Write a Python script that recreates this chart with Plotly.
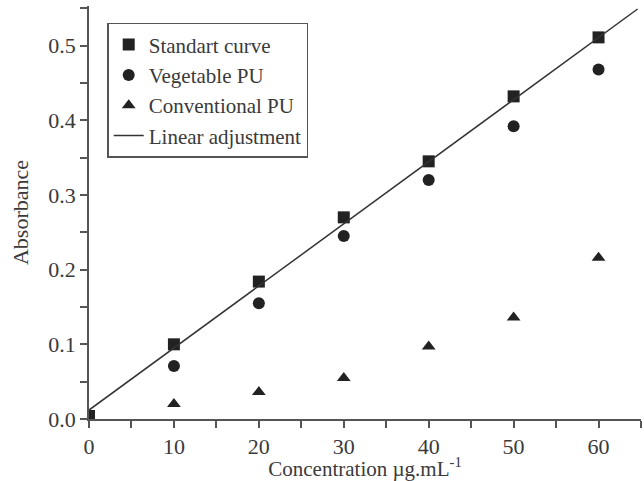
import plotly.graph_objects as go

conc = [0, 10, 20, 30, 40, 50, 60]
standard = [0.004, 0.100, 0.184, 0.270, 0.345, 0.432, 0.511]
conc_pu = [10, 20, 30, 40, 50, 60]
vegetable = [0.071, 0.155, 0.245, 0.320, 0.392, 0.468]
conventional = [0.020, 0.036, 0.055, 0.097, 0.136, 0.216]
fit_x = [0, 64.6]
fit_y = [0.012, 0.549]

ink = "#222222"
txt = "#3a3a3a"
axc = "#555555"
font = "Liberation Serif, Times New Roman, serif"

fig = go.Figure()
fig.add_trace(go.Scatter(x=conc, y=standard, mode="markers", name="Standart curve",
                         marker=dict(symbol="square", size=12, color=ink)))
fig.add_trace(go.Scatter(x=conc_pu, y=vegetable, mode="markers", name="Vegetable PU",
                         marker=dict(symbol="circle", size=12, color=ink)))
fig.add_trace(go.Scatter(x=conc_pu, y=conventional, mode="markers", name="Conventional PU",
                         marker=dict(symbol="triangle-up", size=12, color=ink)))
fig.add_trace(go.Scatter(x=fit_x, y=fit_y, mode="lines", name="Linear adjustment",
                         line=dict(color="#333333", width=1.5)))

fig.update_layout(
    width=644, height=481,
    margin=dict(l=89, r=3, t=6, b=60),
    paper_bgcolor="white", plot_bgcolor="white",
    font=dict(family=font, color=txt, size=21),
    showlegend=True,
    legend=dict(x=0.033, y=0.959, xanchor="left", yanchor="top",
                bordercolor=axc, borderwidth=1.5, bgcolor="white",
                font=dict(size=21, family=font, color=txt),
                tracegroupgap=0, itemwidth=30),
    xaxis=dict(range=[0, 65], tickvals=[0, 10, 20, 30, 40, 50, 60],
               showgrid=False, zeroline=False, showline=True, linecolor=axc, linewidth=1.5,
               ticks="outside", ticklen=7, tickwidth=1.5, tickcolor=axc,
               minor=dict(dtick=5, ticks="outside", ticklen=7, tickwidth=1.5, tickcolor=axc, showgrid=False),
               tickfont=dict(size=22, family=font, color=txt),
               title=dict(text="Concentration µg.mL<sup>-1</sup>", font=dict(size=21, family=font, color=txt),
                          standoff=4)),
    yaxis=dict(range=[0, 0.553], tickvals=[0.0, 0.1, 0.2, 0.3, 0.4, 0.5],
               ticktext=["0.0", "0.1", "0.2", "0.3", "0.4", "0.5"],
               showgrid=False, zeroline=False, showline=True, linecolor=axc, linewidth=1.5,
               ticks="outside", ticklen=7, tickwidth=1.5, tickcolor=axc,
               minor=dict(dtick=0.05, ticks="outside", ticklen=7, tickwidth=1.5, tickcolor=axc, showgrid=False),
               tickfont=dict(size=22, family=font, color=txt),
               title=dict(text="Absorbance", font=dict(size=22, family=font, color=txt), standoff=14)),
)

fig.write_html("out.html")
